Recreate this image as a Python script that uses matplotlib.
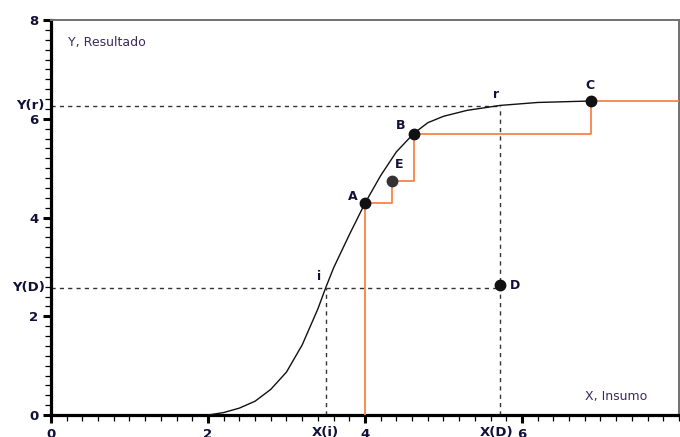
import matplotlib
matplotlib.use("Agg")
import matplotlib.pyplot as plt
from matplotlib.ticker import MultipleLocator, FixedLocator

# ---- data ----
curve_x = [2.0, 2.2, 2.4, 2.6, 2.8, 3.0, 3.2, 3.4, 3.5, 3.6, 3.8, 4.0, 4.2, 4.4, 4.62, 4.8, 5.0, 5.3, 5.72, 6.2, 6.88]
curve_y = [0.0, 0.05, 0.14, 0.28, 0.52, 0.87, 1.42, 2.15, 2.58, 2.98, 3.65, 4.29, 4.85, 5.33, 5.70, 5.92, 6.05, 6.17, 6.27, 6.33, 6.36]

point_names = ["A", "E", "B", "C", "D"]
point_x = [4.0, 4.34, 4.62, 6.88, 5.72]
point_y = [4.29, 4.74, 5.70, 6.36, 2.63]

# staircase (orange) path vertices
step_x = [4.0, 4.0, 4.34, 4.34, 4.62, 4.62, 6.88, 6.88, 8.0]
step_y = [0.0, 4.29, 4.29, 4.74, 4.74, 5.70, 5.70, 6.36, 6.36]

x_i, y_i = 3.50, 2.58      # inflection point i
x_r, y_r = 5.72, 6.26      # point r
y_D = 2.58

x_major = [0, 2, 4, 6]
y_major = [0, 2, 4, 6, 8]

navy = "#10103a"
fig = plt.figure(figsize=(6.8, 4.37), dpi=100)
ax = fig.add_axes([0.075, 0.0503, 0.9235, 0.9039])
ax.set_xlim(0, 8)
ax.set_ylim(0, 8)

dash = dict(color="#333333", lw=1.0, linestyle=(0, (3, 3)), zorder=2)
ax.plot([0, x_r], [y_r, y_r], **dash)
ax.plot([x_r, x_r], [0, y_r], **dash)
ax.plot([0, point_x[4]], [y_D, y_D], **dash)
ax.plot([x_i, x_i], [0, y_i], **dash)

ax.plot(step_x, step_y, color="#fa8246", lw=1.3, zorder=3)
ax.plot(curve_x, curve_y, color="#111111", lw=1.0, zorder=4, solid_joinstyle="round")

colors = ["#111111", "#333333", "#111111", "#111111", "#111111"]
for n, x, y, c in zip(point_names, point_x, point_y, colors):
    ax.plot(x, y, "o", color=c, markersize=7.5, zorder=5)

lab = dict(fontsize=9, fontweight="bold", color=navy, zorder=6)
ax.text(point_x[0] - 0.1, point_y[0] + 0.0, "A", ha="right", va="bottom", **lab)
ax.text(point_x[1] + 0.1, point_y[1] + 0.2, "E", ha="center", va="bottom", **lab)
ax.text(point_x[2] - 0.1, point_y[2] + 0.04, "B", ha="right", va="bottom", **lab)
ax.text(point_x[3] - 0.02, point_y[3] + 0.18, "C", ha="center", va="bottom", **lab)
ax.text(point_x[4] + 0.12, point_y[4], "D", ha="left", va="center", **lab)
ax.text(x_r - 0.05, y_r + 0.1, "r", ha="center", va="bottom", **lab)
ax.text(x_i - 0.08, y_i + 0.1, "i", ha="center", va="bottom", **lab)

ax.text(0.22, 7.55, "Y, Resultado", fontsize=9, color="#3c2a5a", ha="left", va="center")
ax.text(6.8, 0.38, "X, Insumo", fontsize=9, color="#3c2a5a", ha="left", va="center")

# axes styling
for s in ["left", "bottom"]:
    ax.spines[s].set_linewidth(2.3)
    ax.spines[s].set_color("black")
for s in ["top", "right"]:
    ax.spines[s].set_linewidth(1.4)
    ax.spines[s].set_color("#707070")

ax.xaxis.set_major_locator(FixedLocator(x_major))
ax.yaxis.set_major_locator(FixedLocator(y_major))
ax.xaxis.set_minor_locator(MultipleLocator(0.2))
ax.yaxis.set_minor_locator(MultipleLocator(0.2))
ax.set_xticklabels([str(v) for v in x_major])
ax.set_yticklabels([str(v) for v in y_major])
ax.tick_params(which="major", direction="out", length=6, width=2.2, color="black")
ax.tick_params(which="minor", direction="out", length=4.5, width=0.9, color="black")
ax.tick_params(axis="x", which="major", pad=3)
ax.tick_params(axis="y", which="major", pad=3)
for t in ax.get_xticklabels() + ax.get_yticklabels():
    t.set_fontweight("bold")
    t.set_fontsize(9.5)
    t.set_color(navy)

# special axis labels
ax.text(-0.08, y_r, "Y(r)", ha="right", va="center",
        fontsize=9.5, fontweight="bold", color=navy, clip_on=False)
ax.text(-0.08, y_D, "Y(D)", ha="right", va="center",
        fontsize=9.5, fontweight="bold", color=navy, clip_on=False)
ax.text(x_i, -0.22, "X(i)", ha="center", va="top",
        fontsize=9.5, fontweight="bold", color=navy, clip_on=False)
ax.text(x_r - 0.05, -0.22, "X(D)", ha="center", va="top",
        fontsize=9.5, fontweight="bold", color=navy, clip_on=False)

fig.savefig("out.png", dpi=100)
